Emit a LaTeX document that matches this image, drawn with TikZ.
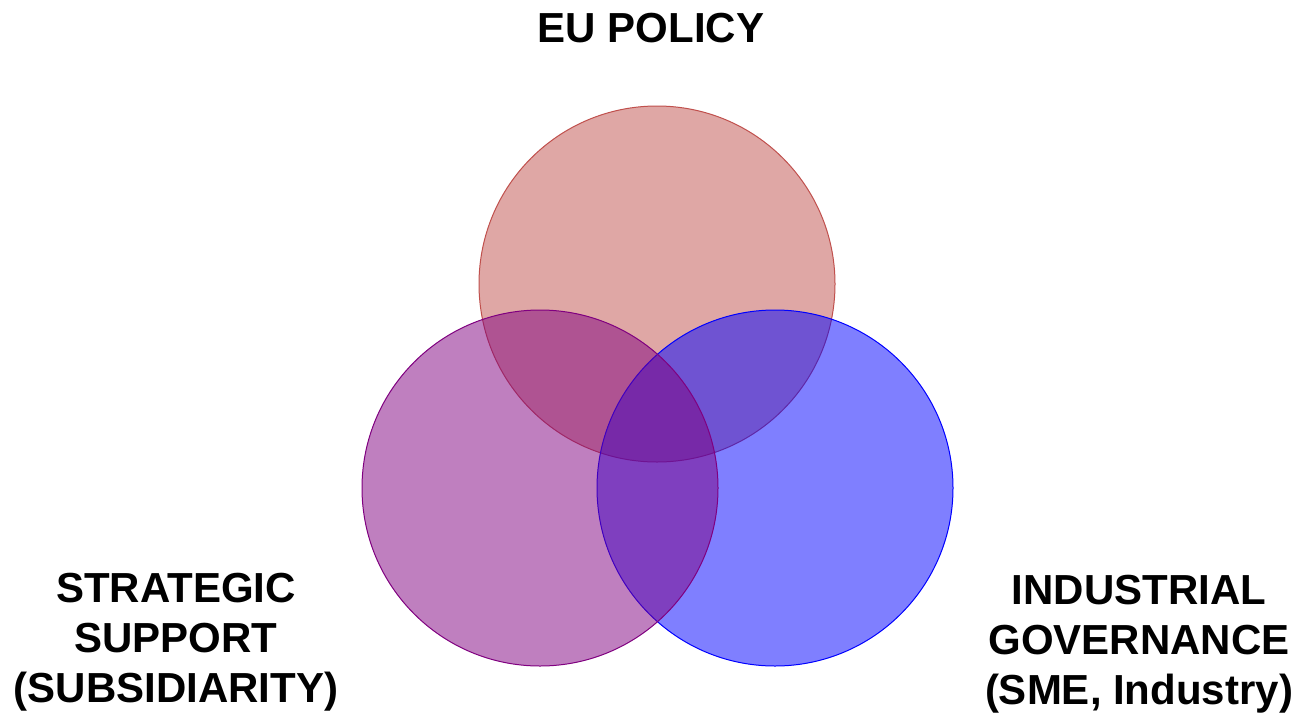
\documentclass[tikz,border=0pt]{standalone}
\usepackage{fontspec}
\setmainfont{Liberation Sans}
\begin{document}
\begin{tikzpicture}[x=1pt,y=-1pt,
  circ/.style={line width=1pt, fill opacity=0.5},
  lbl/.style={font=\fontsize{42}{50}\selectfont\bfseries, inner sep=0pt, align=center}]
\definecolor{eured}{HTML}{C0504D}
\definecolor{stpurple}{HTML}{800080}
\definecolor{igblue}{HTML}{0000FF}
\useasboundingbox (0,0) rectangle (1300,715);
\fill[white] (0,0) rectangle (1300,715);
\draw[circ, draw=eured, fill=eured] (657,284) circle[radius=178];
\draw[circ, draw=igblue, fill=igblue] (775,488) circle[radius=178];
\draw[circ, draw=stpurple, fill=stpurple] (540,488) circle[radius=178];
\node[lbl, anchor=base] (eu) at (651,42) {EU POLICY};
\node[lbl, anchor=north] (st) at (176,573) {STRATEGIC\\SUPPORT\\(SUBSIDIARITY)};
\node[lbl, anchor=north] (ig) at (1139,575) {INDUSTRIAL\\GOVERNANCE\\(SME, Industry)};
\end{tikzpicture}
\end{document}
